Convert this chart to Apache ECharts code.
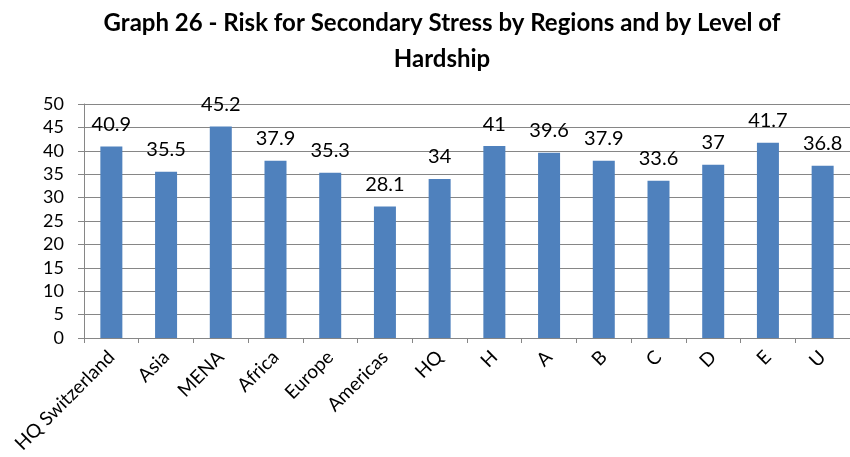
<!DOCTYPE html>
<html>
<head>
<meta charset="utf-8">
<script src="https://cdn.jsdelivr.net/npm/echarts@6/dist/echarts.min.js"></script>
<style>
html,body{margin:0;padding:0;background:#fff;}
#chart{width:850px;height:457px;}
</style>
</head>
<body>
<div id="chart"></div>
<script>
var categories = ["HQ Switzerland","Asia","MENA","Africa","Europe","Americas","HQ","H","A","B","C","D","E","U"];
var values = [40.9,35.5,45.2,37.9,35.3,28.1,34,41,39.6,37.9,33.6,37,41.7,36.8];
var yTicks = [0,5,10,15,20,25,30,35,40,45,50];

var chart = echarts.init(document.getElementById('chart'), null, {renderer:'canvas'});
var font = 'Lato, "Open Sans", sans-serif';
chart.setOption({
  animation:false,
  backgroundColor:'#ffffff',
  title:{
    text:'Graph 26 - Risk for Secondary Stress by Regions and by Level of\nHardship',
    left:437, top:0, textAlign:'center',
    textStyle:{fontFamily:font, fontWeight:'bold', fontSize:24, color:'#000', lineHeight:36}
  },
  grid:{left:84, right:0, top:104, bottom:119, containLabel:false},
  xAxis:{
    type:'category',
    data:categories,
    axisLine:{lineStyle:{color:'#868686', width:1}},
    axisTick:{show:true, length:5, lineStyle:{color:'#868686'}},
    axisLabel:{rotate:45, fontFamily:font, fontSize:19, color:'#000', margin:16, interval:0}
  },
  yAxis:{
    type:'value',
    min:yTicks[0], max:yTicks[yTicks.length-1], interval:5,
    axisLine:{show:true, lineStyle:{color:'#868686'}},
    axisTick:{show:true, length:6, lineStyle:{color:'#868686'}},
    splitLine:{show:true, lineStyle:{color:'#868686', width:1}},
    axisLabel:{fontFamily:font, fontSize:18, color:'#000', margin:20}
  },
  series:[{
    type:'bar',
    data:values,
    barWidth:22,
    itemStyle:{color:'#4F81BD'},
    label:{show:true, position:'top', distance:12, fontFamily:font, fontSize:20, color:'#000'}
  }]
});
</script>
</body>
</html>
